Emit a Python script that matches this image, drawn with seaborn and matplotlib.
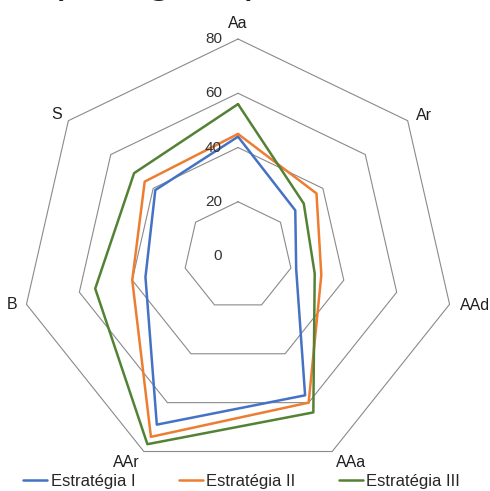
import numpy as np
import pandas as pd
import matplotlib
matplotlib.use("Agg")
import matplotlib.pyplot as plt
import seaborn as sns

# Radar data: seven dimensions, three strategies
categorias = ["Aa", "Ar", "AAd", "AAa", "AAr", "B", "S"]
estrategia_i = [44, 27, 22, 57, 69, 35, 39]
estrategia_ii = [45, 37, 31.5, 60, 74, 40, 44]
estrategia_iii = [56, 31, 29, 64, 77, 54, 49]
series_nomes = ["Estratégia I", "Estratégia II", "Estratégia III"]
aneis = [0, 20, 40, 60, 80]

cores = ["#4472C4", "#ED7D31", "#548235"]

sns.set_style("white")
plt.rcParams["font.family"] = ["Liberation Sans", "DejaVu Sans"]

n = len(categorias)
theta = np.linspace(0, 2 * np.pi, n, endpoint=False)
theta_fechado = np.append(theta, 2 * np.pi)

# Long-form table, each polygon closed by repeating its first vertex
linhas = []
for nome, valores in zip(series_nomes, [estrategia_i, estrategia_ii, estrategia_iii]):
    vals = list(valores) + [valores[0]]
    for t, v in zip(theta_fechado, vals):
        linhas.append({"theta": t, "valor": v, "estrategia": nome})
df = pd.DataFrame(linhas)

fig = plt.figure(figsize=(4.9, 4.91), dpi=100)
ax = fig.add_axes([0.0429, 0.0366, 0.8857, 0.884], projection="polar")
ax.set_theta_zero_location("N")
ax.set_theta_direction(-1)

# Heptagonal gridlines
for r in aneis[1:]:
    ax.plot(theta_fechado, [r] * (n + 1), color="#8a8a8a", lw=0.8,
            zorder=1, clip_on=False)

sns.lineplot(data=df, x="theta", y="valor", hue="estrategia",
             hue_order=series_nomes, palette=cores, sort=False,
             estimator=None, linewidth=1.8, ax=ax, zorder=3)
for ln in ax.lines:
    ln.set_clip_on(False)

ax.set_ylim(0, 80)
ax.grid(False)
ax.spines["polar"].set_visible(False)
ax.set_xticks([])
ax.set_yticks([])
ax.set_xlabel("")
ax.set_ylabel("")
ax.patch.set_alpha(0)

# Radial value labels along the top spoke
for r in aneis:
    ax.annotate(str(r), xy=(0, r), xytext=(-16, 0), textcoords="offset pixels",
                ha="right", va="center", fontsize=11, color="#333333")

# Category labels just outside the outer ring
deslocamentos = [
    ((0, 8), "center", "bottom"),
    ((8, 5), "left", "center"),
    ((10, -1), "left", "center"),
    ((4, -3), "left", "top"),
    ((-4, -3), "right", "top"),
    ((-9, 0), "right", "center"),
    ((-6, 6), "right", "center"),
]
for t, cat, (off, ha, va) in zip(theta, categorias, deslocamentos):
    ax.annotate(cat, xy=(t, 80), xytext=off, textcoords="offset pixels",
                ha=ha, va=va, fontsize=11.5, color="#1f1f1f")

handles, labels = ax.get_legend_handles_labels()
leg = ax.get_legend()
if leg is not None:
    leg.remove()
fig.legend(handles, labels, loc="center", bbox_to_anchor=(0.493, 0.019),
           ncol=3, frameon=False, fontsize=12, handlelength=1.45,
           handletextpad=0.2, columnspacing=2.6, borderpad=0)

# Title sitting above the top edge; only its descenders fall inside
fig.text(0.316, 1.017, "(categoria)", ha="center", va="baseline",
         fontsize=32, color="#1f1f1f")

fig.savefig("out.png", dpi=100)
